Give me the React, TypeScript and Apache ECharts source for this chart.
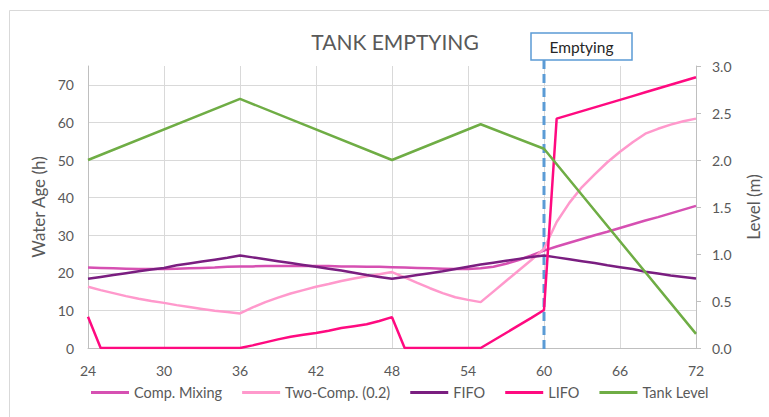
import { useEffect, useRef } from "react";
import * as echarts from "echarts";

const hours = [
  24, 25, 26, 27, 28, 29, 30, 31, 32, 33, 34, 35, 36, 37, 38, 39, 40, 41, 42, 43, 44, 45, 46, 47, 48,
  49, 50, 51, 52, 53, 54, 55, 56, 57, 58, 59, 60, 61, 62, 63, 64, 65, 66, 67, 68, 69, 70, 71, 72,
];
const compMixing = [
  21.4, 21.3, 21.2, 21.1, 21.0, 21.0, 21.0, 21.1, 21.2, 21.3, 21.4, 21.6, 21.7, 21.7, 21.8, 21.8, 21.8,
  21.8, 21.8, 21.8, 21.7, 21.7, 21.6, 21.6, 21.5, 21.4, 21.3, 21.2, 21.1, 21.0, 21.0, 21.2, 21.6, 22.4,
  23.4, 24.6, 25.9, 27.0, 28.0, 29.0, 30.0, 30.9, 31.9, 32.9, 33.9, 34.8, 35.8, 36.8, 37.8,
];
const twoComp = [
  16.3, 15.4, 14.6, 13.8, 13.1, 12.5, 12.0, 11.4, 10.9, 10.4, 9.9, 9.6, 9.2, 10.8, 12.2, 13.4, 14.5,
  15.4, 16.3, 17.0, 17.8, 18.5, 19.1, 19.6, 20.2, 18.8, 17.3, 15.9, 14.6, 13.5, 12.8, 12.2, 15.0, 17.8,
  20.6, 23.4, 26.4, 33.5, 38.6, 42.8, 46.2, 49.4, 52.2, 54.7, 57.0, 58.3, 59.4, 60.3, 61.0,
];
const fifo = [
  18.4, 18.9, 19.4, 19.9, 20.4, 20.9, 21.3, 22.0, 22.5, 23.0, 23.5, 24.0, 24.6, 24.1, 23.6, 23.1, 22.6,
  22.1, 21.6, 21.1, 20.6, 20.0, 19.4, 18.9, 18.4, 18.9, 19.4, 19.9, 20.4, 21.0, 21.6, 22.2, 22.7, 23.2,
  23.7, 24.2, 24.6, 24.1, 23.6, 23.1, 22.6, 22.0, 21.5, 21.0, 20.3, 19.8, 19.3, 18.9, 18.5,
];
const lifo = [
  8.3, 0, 0, 0, 0, 0, 0, 0, 0, 0, 0, 0, 0, 0.7, 1.5, 2.3, 3.0, 3.5, 4.0, 4.6, 5.3, 5.8, 6.3, 7.2, 8.2,
  0, 0, 0, 0, 0, 0, 0, 2.0, 4.0, 6.0, 8.0, 10.1, 61.0, 62.0, 63.0, 64.0, 65.0, 66.0, 67.0, 68.0, 69.0,
  70.0, 71.0, 72.0,
];
const tankHours = [24, 36, 48, 55, 60, 72];
const tankLevel = [2.0, 2.65, 2.0, 2.38, 2.12, 0.15];
const emptyingHour = 60;

const COLORS = {
  comp: "#D650B2",
  two: "#FF99CC",
  fifo: "#7A1E80",
  lifo: "#FF0A80",
  tank: "#6FAD45",
};

export default function App() {
  const ref = useRef<HTMLDivElement>(null);
  useEffect(() => {
    const chart = echarts.init(ref.current!, null, { renderer: "svg" });
    const font = "Lato, 'Open Sans', sans-serif";
    const pair = (xs: number[], ys: number[]) => xs.map((x, i) => [x, ys[i]]);
    const lineSeries = (name: string, data: number[][], color: string, yAxisIndex = 0) => ({
      name,
      type: "line",
      data,
      yAxisIndex,
      showSymbol: false,
      symbol: "none",
      lineStyle: { color, width: 2.5 },
      itemStyle: { color },
      z: 3,
    });
    chart.setOption({
      animation: false,
      textStyle: { fontFamily: font },
      grid: {
        left: 88,
        right: 73,
        top: 66,
        bottom: 69,
        containLabel: false,
        outerBoundsMode: "none",
      },
      legend: {
        bottom: 12,
        left: 86,
        icon: "rect",
        itemWidth: 38,
        itemHeight: 3,
        itemGap: 20,
        textStyle: { color: "#595959", fontSize: 14.5, fontFamily: font },
        data: ["Comp. Mixing", "Two-Comp. (0.2)", "FIFO", "LIFO", "Tank Level"],
      },
      xAxis: {
        type: "value",
        min: 24,
        max: 72,
        interval: 6,
        axisLine: { show: true, lineStyle: { color: "#BFBFBF", width: 1 } },
        axisTick: { show: false },
        axisLabel: { color: "#595959", fontSize: 14, margin: 15, fontFamily: font },
        splitLine: { show: true, lineStyle: { color: "#D9D9D9", width: 1 } },
      },
      yAxis: [
        {
          type: "value",
          min: 0,
          max: 75,
          interval: 10,
          name: "Water Age (h)",
          nameLocation: "middle",
          nameGap: 38,
          nameRotate: 90,
          nameTextStyle: { color: "#595959", fontSize: 17, fontFamily: font },
          axisLine: { show: true, lineStyle: { color: "#BFBFBF", width: 1 } },
          axisTick: { show: false },
          axisLabel: {
            color: "#595959",
            fontSize: 14,
            margin: 14,
            fontFamily: font,
            showMaxLabel: false,
          },
          splitLine: { show: true, showMaxLine: false, lineStyle: { color: "#D9D9D9", width: 1 } },
        },
        {
          type: "value",
          min: 0,
          max: 3,
          interval: 0.5,
          name: "Level (m)",
          nameLocation: "middle",
          nameGap: 49,
          nameRotate: 90,
          nameTextStyle: { color: "#595959", fontSize: 17, fontFamily: font },
          axisLine: { show: true, lineStyle: { color: "#BFBFBF", width: 1 } },
          axisTick: { show: true, length: 5, lineStyle: { color: "#BFBFBF" } },
          axisLabel: {
            color: "#595959",
            fontSize: 14,
            margin: 16,
            fontFamily: font,
            formatter: (v: number) => v.toFixed(1),
          },
          splitLine: { show: false },
        },
      ],
      series: [
        lineSeries("Comp. Mixing", pair(hours, compMixing), COLORS.comp),
        lineSeries("Two-Comp. (0.2)", pair(hours, twoComp), COLORS.two),
        lineSeries("FIFO", pair(hours, fifo), COLORS.fifo),
        lineSeries("LIFO", pair(hours, lifo), COLORS.lifo),
        lineSeries("Tank Level", pair(tankHours, tankLevel), COLORS.tank, 1),
      ],
    });

    const xE = chart.convertToPixel({ xAxisIndex: 0 }, emptyingHour) as number;
    const yBase = chart.convertToPixel({ yAxisIndex: 0 }, 0) as number;
    const boxLeft = xE - 13;
    chart.setOption({
      graphic: [
        {
          type: "rect",
          silent: true,
          z: 0,
          shape: { x: 9.5, y: 10.5, width: 800, height: 500 },
          style: { fill: "none", stroke: "#D9D9D9", lineWidth: 1 },
        },
        {
          type: "text",
          silent: true,
          x: 395,
          y: 41,
          style: {
            text: "TANK EMPTYING",
            fill: "#595959",
            font: `21px ${font}`,
            textAlign: "center",
            textVerticalAlign: "middle",
          },
        },
        {
          type: "line",
          silent: true,
          z: 1,
          shape: { x1: xE, y1: 60, x2: xE, y2: yBase + 5 },
          style: { stroke: "#5B9BD5", lineWidth: 3, lineDash: [9, 5] },
        },
        {
          type: "rect",
          silent: true,
          z: 10,
          shape: { x: boxLeft, y: 33, width: 101, height: 27 },
          style: { fill: "#FFFFFF", stroke: "#5B9BD5", lineWidth: 1.5 },
        },
        {
          type: "text",
          silent: true,
          z: 11,
          x: boxLeft + 50.5,
          y: 47,
          style: {
            text: "Emptying",
            fill: "#262626",
            font: `15.5px ${font}`,
            textAlign: "center",
            textVerticalAlign: "middle",
          },
        },
      ],
    });
    return () => chart.dispose();
  }, []);
  return (
    <div
      ref={ref}
      style={{ position: "absolute", left: 0, top: 0, width: 769, height: 417, background: "#fff" }}
    />
  );
}
